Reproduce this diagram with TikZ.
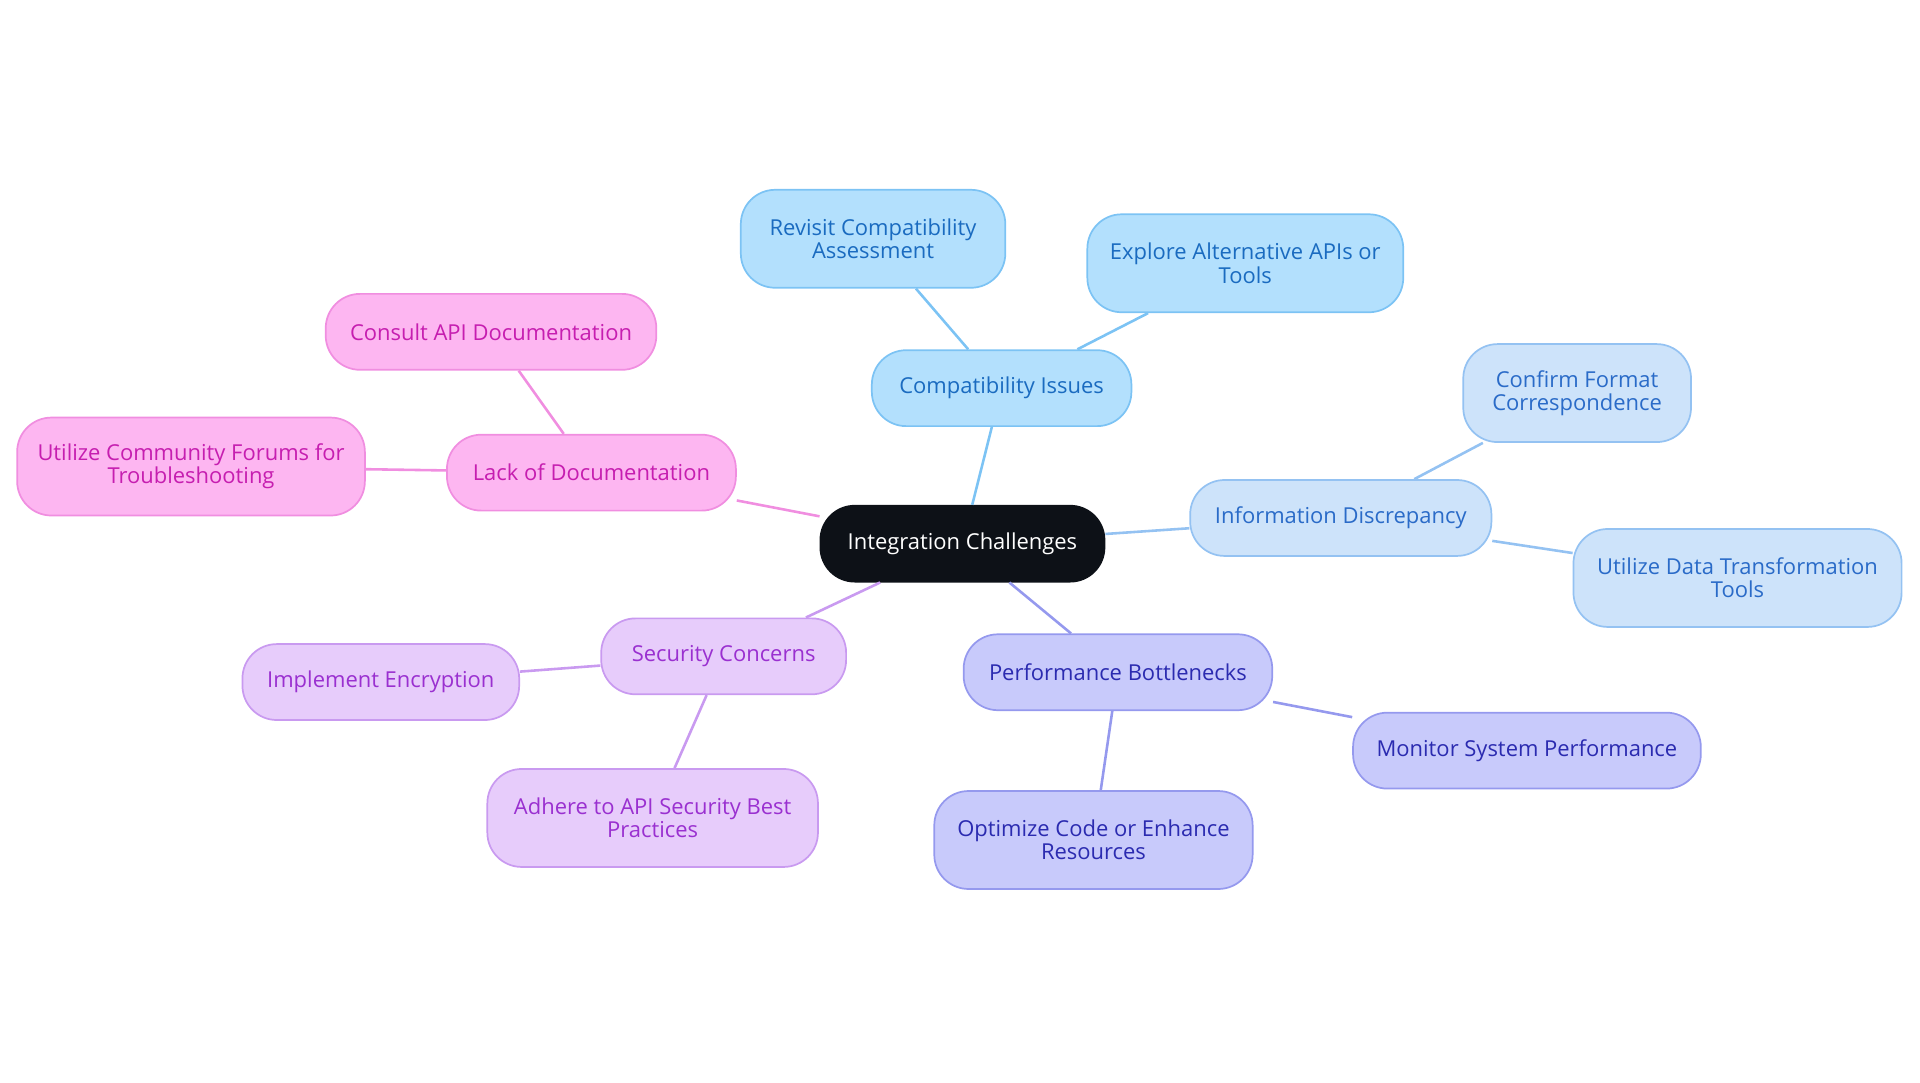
\documentclass[tikz,border=0pt]{standalone}
\usepackage{fontspec}
\setmainfont{Open Sans}
\definecolor{RootClr}{HTML}{0D1117}
\definecolor{CompFill}{HTML}{B3E0FD}\definecolor{CompLine}{HTML}{7CC3F4}\definecolor{CompText}{HTML}{1A6BC0}
\definecolor{InfoFill}{HTML}{CDE3FA}\definecolor{InfoLine}{HTML}{94C2F2}\definecolor{InfoText}{HTML}{2A6BC8}
\definecolor{PerfFill}{HTML}{C8CAFB}\definecolor{PerfLine}{HTML}{9599EE}\definecolor{PerfText}{HTML}{2B2BB0}
\definecolor{SecFill}{HTML}{E7CCFB}\definecolor{SecLine}{HTML}{C99AF0}\definecolor{SecText}{HTML}{9A30D0}
\definecolor{DocFill}{HTML}{FDB6F1}\definecolor{DocLine}{HTML}{F08EE0}\definecolor{DocText}{HTML}{C61EB0}
\begin{document}
\begin{tikzpicture}[x=0.01cm,y=-0.01cm,
  box/.style={rounded corners=0.28cm,draw,line width=0.4pt,align=center,
    font=\fontsize{5.1}{5.4}\selectfont,inner sep=0pt},
  comp/.style={box,fill=CompFill,draw=CompLine,text=CompText},
  info/.style={box,fill=InfoFill,draw=InfoLine,text=InfoText},
  perf/.style={box,fill=PerfFill,draw=PerfLine,text=PerfText},
  sec/.style={box,fill=SecFill,draw=SecLine,text=SecText},
  doc/.style={box,fill=DocFill,draw=DocLine,text=DocText},
  sz/.style 2 args={minimum width=#1*0.01cm,minimum height=#2*0.01cm},
  link/.style={line width=0.6pt}]
\useasboundingbox (0,0) rectangle (1568,884);

\node[box,fill=RootClr,draw=RootClr,text=white,sz={232}{62}] (root) at (786,444) {Integration Challenges};

\node[comp,sz={212}{62}] (comp) at (818,317) {Compatibility Issues};
\node[comp,sz={216}{80}] (revisit) at (713,195) {Revisit Compatibility\\Assessment};
\node[comp,sz={258}{80}] (explore) at (1017,215) {Explore Alternative APIs or\\Tools};

\node[info,sz={246}{62}] (info) at (1095,423) {Information Discrepancy};
\node[info,sz={186}{80}] (confirm) at (1288,321) {Confirm Format\\Correspondence};
\node[info,sz={268}{80}] (transform) at (1419,472) {Utilize Data Transformation\\Tools};

\node[perf,sz={252}{62}] (perf) at (913,549) {Performance Bottlenecks};
\node[perf,sz={284}{62}] (monitor) at (1247,613) {Monitor System Performance};
\node[perf,sz={260}{80}] (optimize) at (893,686) {Optimize Code or Enhance\\Resources};

\node[sec,sz={200}{62}] (sec) at (591,536) {Security Concerns};
\node[sec,sz={226}{62}] (encrypt) at (311,557) {Implement Encryption};
\node[sec,sz={270}{80}] (adhere) at (533,668) {Adhere to API Security Best\\Practices};

\node[doc,sz={236}{62}] (doc) at (483,386) {Lack of Documentation};
\node[doc,sz={270}{62}] (consult) at (401,271) {Consult API Documentation};
\node[doc,sz={284}{80}] (forums) at (156,381) {Utilize Community Forums for\\Troubleshooting};

% connectors
\draw[link,CompLine] (root) -- (comp) (comp) -- (revisit) (comp) -- (explore);
\draw[link,InfoLine] (root) -- (info) (info) -- (confirm) (info) -- (transform);
\draw[link,PerfLine] (root) -- (perf) (perf) -- (monitor) (perf) -- (optimize);
\draw[link,SecLine] (root) -- (sec) (sec) -- (encrypt) (sec) -- (adhere);
\draw[link,DocLine] (root) -- (doc) (doc) -- (consult) (doc) -- (forums);
\end{tikzpicture}
\end{document}
